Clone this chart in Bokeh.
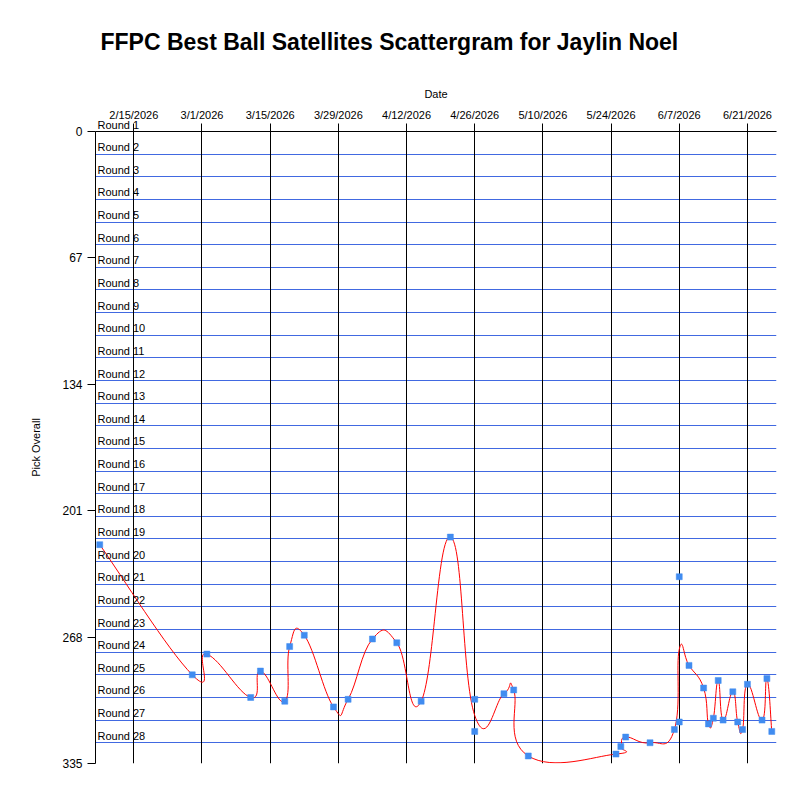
import numpy as np
import pandas as pd
from bokeh.plotting import figure
from bokeh.models import Range1d, FixedTicker, LabelSet, Label, ColumnDataSource
from bokeh.core.properties import value
from bokeh.embed import file_html
from bokeh.resources import INLINE

# ---------------- data ----------------
dates = ["2026-02-08", "2026-02-27", "2026-03-02", "2026-03-11", "2026-03-13",
         "2026-03-18", "2026-03-19", "2026-03-22", "2026-03-28", "2026-03-31",
         "2026-04-05", "2026-04-10", "2026-04-15", "2026-04-21", "2026-04-26",
         "2026-04-26", "2026-05-02", "2026-05-04", "2026-05-07", "2026-05-25",
         "2026-05-26", "2026-05-27", "2026-06-01", "2026-06-06", "2026-06-07",
         "2026-06-07", "2026-06-09", "2026-06-12", "2026-06-13", "2026-06-14",
         "2026-06-15", "2026-06-16", "2026-06-18", "2026-06-19", "2026-06-20",
         "2026-06-21", "2026-06-24", "2026-06-25", "2026-06-26"]
picks = [219, 288, 277, 300, 286,
         302, 273, 267, 305, 301,
         269, 271, 302, 215, 301,
         318, 298, 296, 331, 330,
         326, 321, 324, 317, 313,
         236, 283, 295, 314, 311,
         291, 312, 297, 313, 317,
         293, 312, 290, 318]

tick_dates = ["2026-02-15", "2026-03-01", "2026-03-15", "2026-03-29", "2026-04-12",
              "2026-04-26", "2026-05-10", "2026-05-24", "2026-06-07", "2026-06-21"]
tick_labels = ["2/15/2026", "3/1/2026", "3/15/2026", "3/29/2026", "4/12/2026",
               "4/26/2026", "5/10/2026", "5/24/2026", "6/7/2026", "6/21/2026"]
y_ticks = [0, 67, 134, 201, 268, 335]
rounds = list(range(1, 29))
picks_per_round = 12
x_start_date = "2026-02-07 03:10"
x_end_date = "2026-06-26 23:15"

# ---------------- helpers ----------------
base = pd.Timestamp(tick_dates[0])
def to_days(s):
    return (pd.to_datetime(pd.Series(s)) - base) / pd.Timedelta(days=1)

xd = to_days(dates).to_numpy()
yd = np.array(picks, dtype=float)
tick_x = to_days(tick_dates).to_numpy()
x0r = float(to_days([x_start_date])[0])
x1r = float(to_days([x_end_date])[0])

# smoothed line through per-date means (cardinal spline, tension 0.8)
df = pd.DataFrame({"x": xd, "y": yd}).groupby("x", as_index=False)["y"].mean()
P = df[["x", "y"]].to_numpy()
k = 0.3 * 0.8
prev = np.vstack([P[:1], P[:-1]])
nxt = np.vstack([P[1:], P[-1:]])
tang = nxt - prev
tang[0] = P[1] - P[0]
tang[-1] = P[-1] - P[-2]
c1 = P[:-1] + k * tang[:-1]
c2 = P[1:] - k * tang[1:]

FONT = "Liberation Sans"

p = figure(width=784, height=784, frame_width=681, frame_height=632,
           x_range=Range1d(x0r, x1r), y_range=Range1d(335, 0),
           x_axis_location="above", output_backend="svg", toolbar_location=None,
           title="FFPC Best Ball Satellites Scattergram for Jaylin Noel",
           min_border_left=95, min_border_right=8, min_border_top=131,
           min_border_bottom=21)
p.outline_line_color = None
p.background_fill_color = "white"
p.border_fill_color = "white"

p.title.text_font = FONT
p.title.text_font_size = "23px"
p.title.text_font_style = "bold"
p.title.text_color = "black"
p.title.align = "left"
p.title.vertical_align = "top"
p.title.offset = 5
p.title.standoff = 56

# x axis (top)
xa = p.xaxis[0]
xa.ticker = FixedTicker(ticks=list(tick_x))
xa.major_label_overrides = {float(t): l for t, l in zip(tick_x, tick_labels)}
xa.axis_label = "Date"
xa.axis_label_text_font = FONT
xa.axis_label_text_font_size = "11px"
xa.axis_label_text_font_style = "normal"
xa.axis_label_text_color = "black"
xa.axis_label_standoff = 6
xa.major_label_text_font = FONT
xa.major_label_text_font_size = "11px"
xa.major_label_text_color = "black"
xa.major_label_standoff = 3
xa.major_tick_out = 8
xa.major_tick_in = 0
xa.minor_tick_out = 0
xa.minor_tick_in = 0
xa.axis_line_color = "black"
xa.major_tick_line_color = "black"

# y axis
ya = p.yaxis[0]
ya.ticker = FixedTicker(ticks=y_ticks)
ya.axis_label = "Pick Overall"
ya.axis_label_text_font = FONT
ya.axis_label_text_font_size = "11px"
ya.axis_label_text_font_style = "normal"
ya.axis_label_text_color = "black"
ya.axis_label_standoff = 17
ya.major_label_text_font = FONT
ya.major_label_text_font_size = "12px"
ya.major_label_text_color = "black"
ya.major_label_standoff = 5
ya.major_tick_out = 8
ya.major_tick_in = 0
ya.minor_tick_out = 0
ya.minor_tick_in = 0
ya.axis_line_color = "black"
ya.major_tick_line_color = "black"

p.xgrid.grid_line_color = "black"
p.xgrid.grid_line_alpha = 1.0
p.xgrid.grid_line_width = 1
p.ygrid.grid_line_color = None

# round boundary lines + labels
round_y = [picks_per_round * (r - 1) for r in rounds]
round_txt = ["Round %d" % r for r in rounds]
p.hspan(y=round_y, line_color="#4169E1", line_width=1, level="image")
lsrc = ColumnDataSource(dict(x=[x0r] * (len(rounds) - 1), y=round_y[1:], t=round_txt[1:]))
p.add_layout(LabelSet(x="x", y="y", text="t", source=lsrc, x_offset=2, y_offset=1,
                      text_font=value(FONT), text_font_size=value("11px"),
                      text_color="black", text_baseline="bottom", text_align="left"))
# first label sits above the frame edge: keep it in a side panel so it is not clipped
p.add_layout(Label(x=x0r, y=round_y[0], text=round_txt[0], x_offset=2, y_offset=1,
                   text_font=FONT, text_font_size="11px", text_color="black",
                   text_baseline="bottom", text_align="left"), "below")

# spline
p.bezier(x0=P[:-1, 0], y0=P[:-1, 1], x1=P[1:, 0], y1=P[1:, 1],
         cx0=c1[:, 0], cy0=c1[:, 1], cx1=c2[:, 0], cy1=c2[:, 1],
         line_color="red", line_width=1)

# points
p.scatter(xd, yd, marker="square", size=6, fill_color="#418CF0",
          line_color="#418CF0", line_width=0.5)

open("out.html", "w").write(file_html(p, INLINE))
